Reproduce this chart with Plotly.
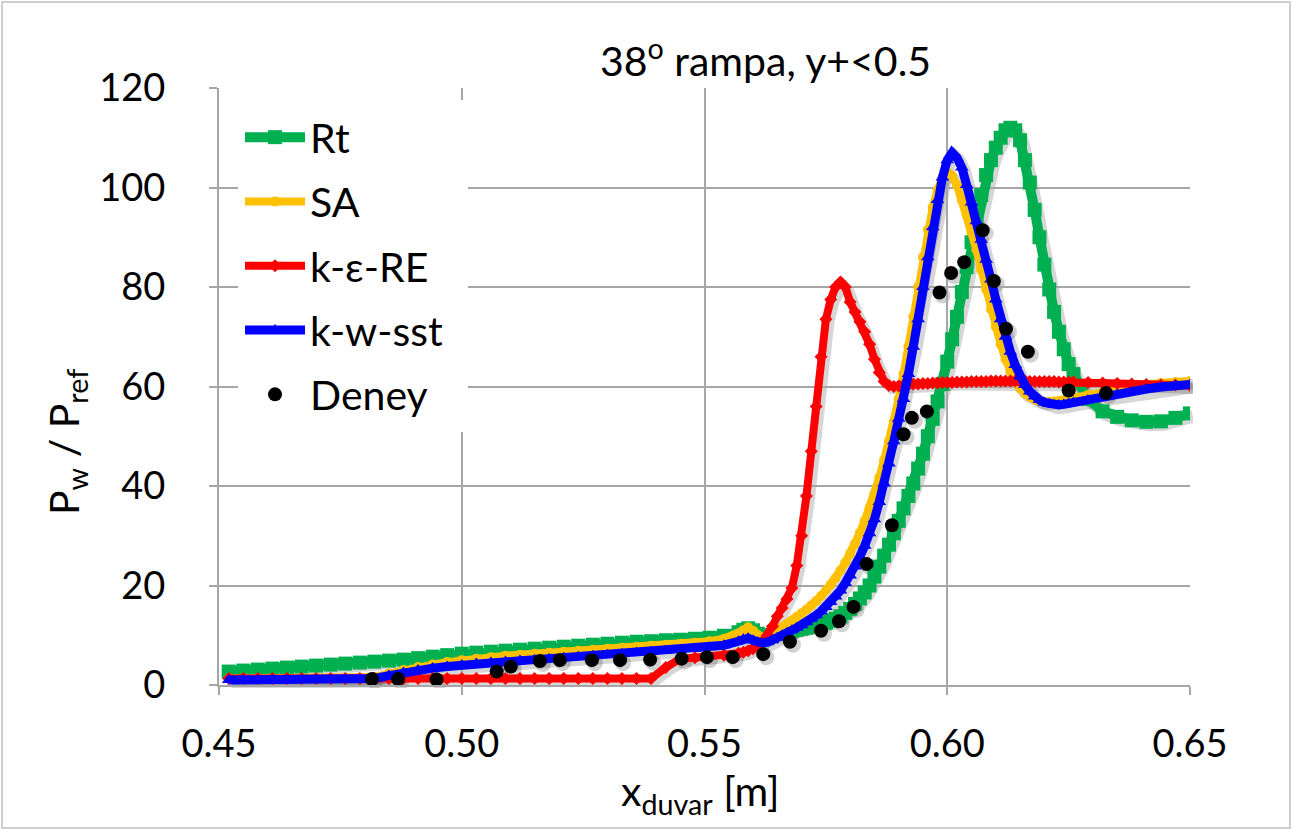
import plotly.graph_objects as go

# ---------------- data ----------------
x_cfd = [0.452, 0.455, 0.458, 0.461, 0.464, 0.467, 0.470, 0.473, 0.476, 0.479,
         0.482, 0.485, 0.488, 0.491, 0.494, 0.497, 0.500, 0.503, 0.506, 0.509,
         0.512, 0.515, 0.518, 0.521, 0.524, 0.527, 0.530, 0.533, 0.536, 0.539,
         0.542, 0.545, 0.548, 0.551, 0.554, 0.557,
         0.558, 0.559, 0.560, 0.561, 0.562, 0.563, 0.564, 0.565, 0.566, 0.567,
         0.568, 0.569, 0.570, 0.571, 0.572, 0.573, 0.574, 0.575, 0.576, 0.577,
         0.578, 0.579, 0.580, 0.581, 0.582, 0.583, 0.584, 0.585, 0.586, 0.587,
         0.588, 0.589, 0.590, 0.591, 0.592, 0.593, 0.594, 0.595, 0.596, 0.597,
         0.598, 0.599, 0.600, 0.601, 0.602, 0.603, 0.604, 0.605, 0.606, 0.607,
         0.608, 0.609, 0.610, 0.611, 0.612, 0.613, 0.614, 0.615, 0.616, 0.617,
         0.618, 0.619, 0.620, 0.621, 0.622, 0.623, 0.624, 0.625,
         0.626, 0.629, 0.632, 0.635, 0.638, 0.641, 0.644, 0.647, 0.650]

rt = [2.7, 2.9, 3.1, 3.3, 3.5, 3.7, 3.9, 4.1, 4.3, 4.5,
      4.7, 4.9, 5.1, 5.4, 5.7, 6.0, 6.3, 6.5, 6.7, 6.9,
      7.1, 7.3, 7.5, 7.7, 7.9, 8.1, 8.3, 8.5, 8.7, 8.8,
      9.0, 9.1, 9.3, 9.5, 9.9, 10.6,
      11.1, 11.4, 11.0, 10.3, 9.8, 9.9, 10.1, 10.3, 10.5, 10.7,
      10.9, 11.1, 11.3, 11.5, 11.7, 11.9, 12.2, 12.5, 12.9, 13.3,
      13.8, 14.5, 15.3, 16.3, 17.4, 18.6, 20.0, 21.8, 23.8, 26.0,
      28.2, 30.5, 33.0, 35.5, 38.0, 40.5, 43.5, 46.5, 50.0, 53.5,
      57.0, 60.5, 65.0, 69.5, 74.0, 79.0, 84.0, 89.0, 94.0, 98.5,
      102.5, 105.5, 108.0, 110.0, 111.5, 112.0, 111.5, 109.5, 105.5, 101.0,
      95.5, 90.0, 84.5, 79.5, 75.0, 71.0, 67.5, 64.5,
      62.5, 57.5, 55.0, 53.9, 53.2, 52.9, 53.0, 53.7, 54.6]

sa = [1.3, 1.3, 1.3, 1.3, 1.3, 1.3, 1.3, 1.3, 1.3, 1.3,
      1.6, 2.3, 3.0, 3.6, 4.1, 4.6, 5.0, 5.3, 5.6, 5.9,
      6.1, 6.3, 6.5, 6.7, 6.9, 7.1, 7.3, 7.5, 7.7, 7.9,
      8.1, 8.3, 8.5, 8.8, 9.3, 10.3,
      11.0, 11.6, 10.9, 10.0, 9.5, 9.8, 10.4, 11.0, 11.6, 12.3,
      13.0, 13.7, 14.4, 15.2, 16.0, 16.9, 17.9, 19.0, 20.2, 21.5,
      23.0, 24.6, 26.4, 28.4, 30.6, 33.0, 35.6, 38.5, 41.7, 45.2,
      49.0, 53.0, 57.5, 62.5, 68.0, 74.0, 80.0, 86.0, 91.5, 96.0,
      99.5, 102.0, 103.0, 102.3, 100.5, 97.5, 94.5, 91.0, 87.5, 83.5,
      79.5, 75.5, 72.0, 68.5, 65.5, 63.0, 61.0, 59.6, 58.6, 57.9,
      57.4, 57.1, 56.9, 56.9, 57.0, 57.1, 57.3, 57.5,
      57.7, 58.3, 58.9, 59.5, 60.0, 60.4, 60.7, 60.9, 61.1]

ke_re = [1.3, 1.3, 1.3, 1.3, 1.3, 1.3, 1.3, 1.3, 1.3, 1.3,
         1.3, 1.3, 1.3, 1.3, 1.3, 1.3, 1.3, 1.3, 1.3, 1.3,
         1.3, 1.3, 1.3, 1.3, 1.3, 1.3, 1.3, 1.3, 1.3, 1.3,
         3.5, 5.3, 5.5, 5.7, 6.0, 6.4,
         6.6, 6.9, 7.3, 7.9, 8.8, 10.0, 11.8, 13.8, 15.5, 17.3,
         19.5, 24.0, 30.0, 38.0, 47.0, 56.0, 66.0, 73.5, 77.5, 80.0,
         81.0, 80.0, 77.0, 75.0, 73.0, 71.0, 68.5, 65.5, 62.8, 61.0,
         60.2, 60.0, 60.1, 60.3, 60.4, 60.5, 60.5, 60.6, 60.6, 60.7,
         60.7, 60.8, 60.8, 60.8, 60.9, 60.9, 60.9, 61.0, 61.0, 61.0,
         61.0, 61.1, 61.1, 61.1, 61.1, 61.1, 61.1, 61.1, 61.1, 61.0,
         61.0, 61.0, 61.0, 61.0, 61.0, 60.9, 60.9, 60.9,
         60.9, 60.8, 60.7, 60.6, 60.5, 60.4, 60.3, 60.3, 60.2]

kw_sst = [1.0, 1.0, 1.0, 1.0, 1.0, 1.0, 1.0, 1.0, 1.0, 1.0,
          1.3, 1.9, 2.5, 3.0, 3.4, 3.7, 4.0, 4.3, 4.5, 4.7,
          4.9, 5.1, 5.3, 5.5, 5.7, 5.9, 6.1, 6.3, 6.5, 6.7,
          6.9, 7.1, 7.3, 7.6, 8.0, 8.8,
          9.2, 9.4, 9.0, 8.6, 8.4, 8.6, 9.0, 9.5, 10.0, 10.5,
          11.0, 11.5, 12.0, 12.6, 13.3, 14.0, 14.8, 15.7, 16.7, 17.8,
          19.0, 20.5, 22.0, 23.8, 25.8, 28.0, 30.5, 33.3, 36.8, 40.5,
          44.5, 49.0, 53.5, 57.5, 62.5, 68.0, 73.5, 80.0, 86.0, 92.0,
          97.5, 102.0, 105.5, 107.0, 106.0, 104.0, 100.5, 97.0, 93.2, 89.5,
          85.5, 81.5, 77.5, 73.5, 70.0, 67.0, 64.3, 62.0, 60.3, 59.0,
          58.0, 57.3, 56.8, 56.5, 56.3, 56.3, 56.4, 56.6,
          56.8, 57.3, 57.9, 58.4, 58.9, 59.5, 59.9, 60.2, 60.4]

x_deney = [0.4815, 0.4869, 0.4948, 0.5072, 0.5101, 0.5161, 0.5202, 0.5268,
           0.5326, 0.5388, 0.5453, 0.5505, 0.5558, 0.5621, 0.5676, 0.5740,
           0.5777, 0.5807, 0.5834, 0.5886, 0.5910, 0.5927, 0.5958, 0.5984,
           0.6008, 0.6035, 0.6073, 0.6096, 0.6121, 0.6166, 0.6250, 0.6327]
y_deney = [1.2, 1.2, 1.1, 2.7, 3.7, 4.8, 5.0, 5.0,
           5.0, 5.1, 5.3, 5.6, 5.6, 6.2, 8.7, 10.9,
           12.8, 15.7, 24.3, 32.1, 50.4, 53.7, 55.0, 78.9,
           82.8, 85.0, 91.4, 81.2, 71.6, 67.0, 59.2, 58.7]

series_names = ["Rt", "SA", "k-ε-RE", "k-w-sst"]
series_vals = [rt, sa, ke_re, kw_sst]
series_colors = ["#00b050", "#ffc000", "#ff0000", "#0000ff"]
series_symbols = ["square", "circle", "diamond", "triangle-up"]
series_msize = [14, 10, 10, 12]
series_lwidth = [10, 8, 8, 9]

x_ticks = [0.45, 0.50, 0.55, 0.60, 0.65]
x_ticklabels = ["0.45", "0.50", "0.55", "0.60", "0.65"]
y_ticks = [0, 20, 40, 60, 80, 100, 120]

FONT = "Lato"
GRID = "#a6a6a6"

# pixel geometry of the plotting area (main axes 219..1190 x 88..685; shadow offset 3 px)
L, R, T, B = 219, 1193, 88, 688
W, H = R - L, B - T
off = 3

def px(x):
    return (x - L) / W

def py(y):
    return (B - y) / H

fig = go.Figure()

# soft drop shadows (same data on a slightly shifted copy of the axes)
for name, vals, lw in zip(series_names, series_vals, series_lwidth):
    fig.add_trace(go.Scatter(
        x=x_cfd, y=vals, mode="lines", xaxis="x", yaxis="y",
        line=dict(color="rgba(0,0,0,0.16)", width=lw + 3),
        showlegend=False, hoverinfo="skip"))
fig.add_trace(go.Scatter(
    x=x_deney, y=y_deney, mode="markers", xaxis="x", yaxis="y",
    marker=dict(color="rgba(0,0,0,0.18)", size=16),
    showlegend=False, hoverinfo="skip"))

# main series
for i, (name, vals, col, sym, ms, lw) in enumerate(zip(
        series_names, series_vals, series_colors, series_symbols,
        series_msize, series_lwidth)):
    fig.add_trace(go.Scatter(
        x=x_cfd, y=vals, name=name, mode="lines+markers",
        xaxis="x2", yaxis="y2", legendgroup=f"g{i}",
        line=dict(color=col, width=lw),
        marker=dict(symbol=sym, size=ms, color=col, line=dict(width=0))))
fig.add_trace(go.Scatter(
    x=x_deney, y=y_deney, name="Deney", mode="markers",
    xaxis="x2", yaxis="y2", legendgroup="g4",
    marker=dict(color="black", size=14)))

fig.update_layout(
    width=1292, height=830,
    margin=dict(l=L, r=1292 - R, t=T, b=830 - B),
    paper_bgcolor="white", plot_bgcolor="rgba(0,0,0,0)",
    font=dict(family=FONT, color="black"),
    xaxis=dict(range=[0.45, 0.65], domain=[off / W, 1], anchor="y",
               visible=False, fixedrange=True),
    yaxis=dict(range=[0, 120], domain=[0, 1 - off / H], anchor="x",
               visible=False, fixedrange=True),
    xaxis2=dict(range=[0.45, 0.65], domain=[0, 1 - off / W], anchor="y2",
                tickvals=x_ticks, ticktext=x_ticklabels,
                showgrid=True, gridcolor=GRID, gridwidth=2,
                showline=True, linecolor=GRID, linewidth=2,
                ticks="outside", ticklen=8, tickcolor=GRID, tickwidth=2,
                ticklabelstandoff=16,
                tickfont=dict(family=FONT, size=38, color="black"),
                zeroline=False),
    yaxis2=dict(range=[0, 120], domain=[off / H, 1], anchor="x2",
                tickvals=y_ticks,
                showgrid=True, gridcolor=GRID, gridwidth=2,
                showline=True, linecolor=GRID, linewidth=2,
                ticks="outside", ticklen=8, tickcolor=GRID, tickwidth=2,
                ticklabelstandoff=36,
                tickfont=dict(family=FONT, size=38, color="black"),
                zeroline=False),
    legend=dict(x=px(240), y=py(104), xanchor="left", yanchor="top",
                bgcolor="white", borderwidth=0, itemwidth=60,
                font=dict(family=FONT, size=41, color="black"),
                traceorder="grouped", tracegroupgap=8),
    showlegend=True,
)

fig.add_annotation(x=px(765), y=py(58), xref="paper", yref="paper",
                   text="38<sup>o</sup> rampa, y+&lt;0.5", showarrow=False,
                   xanchor="center", yanchor="middle",
                   font=dict(family=FONT, size=41, color="black"))
fig.add_annotation(x=px(700), y=py(793), xref="paper", yref="paper",
                   text="x<sub>duvar</sub> [m]", showarrow=False,
                   xanchor="center", yanchor="middle",
                   font=dict(family=FONT, size=41, color="black"))
fig.add_annotation(x=px(66), y=py(442), xref="paper", yref="paper",
                   text="P<sub>w</sub> / P<sub>ref</sub>", showarrow=False,
                   textangle=-90, xanchor="center", yanchor="middle",
                   font=dict(family=FONT, size=41, color="black"))

# white backing that hides the grid behind the legend
fig.add_shape(type="rect", xref="paper", yref="paper",
              x0=px(238), x1=px(468), y0=py(432), y1=py(100),
              line=dict(width=0), fillcolor="white", layer="above")

# outer chart border
fig.add_shape(type="rect", xref="paper", yref="paper",
              x0=px(2), x1=px(1290), y0=py(828), y1=py(2),
              line=dict(color="#bfbfbf", width=1.5), fillcolor="rgba(0,0,0,0)",
              layer="below")

fig.write_html("out.html")
